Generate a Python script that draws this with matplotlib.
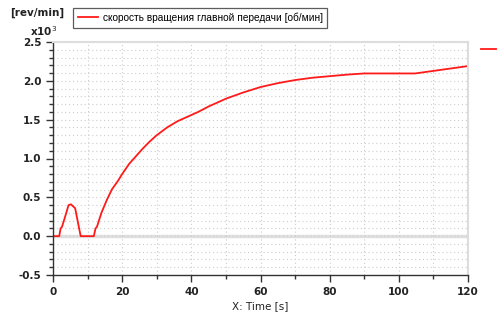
import numpy as np
import matplotlib
matplotlib.use('Agg')
import matplotlib.pyplot as plt
from matplotlib.ticker import MultipleLocator

# time [s] and speed [rev/min]
time_s = [0, 1.8, 2.2, 2.6, 3.5, 4.5, 5.2, 5.9, 6.4, 8.0, 11.8, 12.3, 12.7, 14, 15.5,
          17, 18.9, 20, 22, 25, 26, 28, 30, 33, 36, 39, 42, 45, 50, 55, 60, 65, 70,
          75, 80, 85, 90, 104.7, 120]
speed = [0, 0, 100, 120, 250, 400, 410, 380, 360, 0, 0, 100, 120, 300, 460,
         600, 720, 800, 930, 1080, 1130, 1220, 1300, 1400, 1480, 1540, 1600, 1670, 1770, 1850, 1920, 1970, 2010,
         2040, 2060, 2080, 2095, 2095, 2190]
label = 'скорость вращения главной передачи [об/мин]'
xticks = [0, 20, 40, 60, 80, 100, 120]
yticks = [-0.5, 0.0, 0.5, 1.0, 1.5, 2.0, 2.5]

fig = plt.figure(figsize=(5.01, 3.15), dpi=100)
ax = fig.add_axes([53/501, 40/315, 415/501, 233/315])

ln, = ax.plot(time_s, np.array(speed)/1000., color='#ff1a1a', lw=1.3, label=label)
ax.axhline(0, color='#e0e0e0', lw=2.5, zorder=0)

ax.set_xlim(0, 120)
ax.set_ylim(-0.5, 2.5)
ax.set_xticks(xticks)
ax.set_yticks(yticks)
ax.set_yticklabels(['%.1f' % v for v in yticks])
ax.xaxis.set_minor_locator(MultipleLocator(10))
ax.yaxis.set_minor_locator(MultipleLocator(0.1))
ax.grid(True, which='both', color='#cccccc', linestyle=(0, (1, 2.5)), lw=0.8)
ax.set_axisbelow(True)

for s in ['top', 'right']:
    ax.spines[s].set_color('#dddddd')
    ax.spines[s].set_linewidth(1.5)
for s in ['left', 'bottom']:
    ax.spines[s].set_color('#333333')
    ax.spines[s].set_linewidth(1.0)
ax.tick_params(which='major', length=5, width=1, color='#333333', labelsize=7.5, labelcolor='#222222')
ax.tick_params(which='minor', length=3, width=1, color='#333333')
for t in ax.get_xticklabels() + ax.get_yticklabels():
    t.set_fontweight('bold')

ax.set_xlabel('X: Time [s]', fontsize=7.5, color='#222222', labelpad=3)

fig.text(10/501, 1-13/315, '[rev/min]', fontsize=7.5, fontweight='bold', color='#222222', va='center')
fig.text(30/501, 1-31/315, 'x10$^3$', fontsize=7.5, fontweight='bold', color='#222222', va='center')

leg = fig.legend(handles=[ln], loc='upper left', bbox_to_anchor=(73/501, 1-8/315),
                 prop={'family': 'Liberation Sans', 'size': 7.3}, frameon=True, fancybox=False,
                 handlelength=2.0, borderpad=0.45, handletextpad=0.5, borderaxespad=0)
leg.get_frame().set_edgecolor('#333333')
leg.get_frame().set_linewidth(0.9)

fig.add_artist(plt.Line2D([481/501, 496/501], [1-49/315, 1-49/315], color='#ff1a1a', lw=1.3))

plt.savefig('out.png', dpi=100)
